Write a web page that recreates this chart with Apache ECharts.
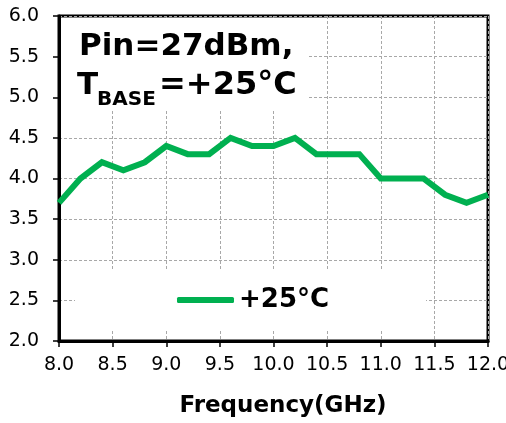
<!DOCTYPE html>
<html><head><meta charset="utf-8">
<script src="https://cdn.jsdelivr.net/npm/echarts@6/dist/echarts.min.js"></script>
<style>html,body{margin:0;padding:0;background:#fff}#c{width:506px;height:423px}</style>
</head><body><div id="c"></div>
<script>
var freqs = [8.0, 8.2, 8.4, 8.6, 8.8, 9.0, 9.2, 9.4, 9.6, 9.8, 10.0, 10.2, 10.4, 10.6, 10.8, 11.0, 11.2, 11.4, 11.6, 11.8, 12.0];
var vals25 = [3.7, 4.0, 4.2, 4.1, 4.2, 4.4, 4.3, 4.3, 4.5, 4.4, 4.4, 4.5, 4.3, 4.3, 4.3, 4.0, 4.0, 4.0, 3.8, 3.7, 3.8];
var xTicks = ['8.0','8.5','9.0','9.5','10.0','10.5','11.0','11.5','12.0'];
var yTicks = ['2.0','2.5','3.0','3.5','4.0','4.5','5.0','5.5','6.0'];
var seriesName = '+25°C';
var xName = 'Frequency(GHz)';
var note1 = 'Pin=27dBm,';
var note2a = 'T', note2b = 'BASE', note2c = '=+25°C';

var F = 'DejaVu Sans';
function txt(x, y, s, size, extra) {
  var st = {text: s, fontFamily: F, fontWeight: 'bold', fontSize: size, fill: '#000', verticalAlign: 'middle'};
  if (extra) for (var k in extra) st[k] = extra[k];
  return {type: 'text', z: 5, x: x, y: y, style: st};
}
var chart = echarts.init(document.getElementById('c'));
chart.setOption({
  animation: false,
  grid: {left: 59, right: 18, top: 16, bottom: 82, outerBoundsMode: 'none', containLabel: false,
    show: true, borderColor: '#000', borderWidth: 3, backgroundColor: 'transparent'},
  xAxis: {
    type: 'value', min: 8, max: 12, interval: 0.5,
    axisLine: {show: true, lineStyle: {color: '#000', width: 3}},
    axisTick: {show: true, length: 6, lineStyle: {color: '#000', width: 1.5}},
    axisLabel: {margin: 15, color: '#000', fontFamily: F, fontSize: 19,
      formatter: function (v) { var i = Math.round((v - 8) / 0.5); return xTicks[i] || ''; }},
    splitLine: {show: true, lineStyle: {color: '#a8a8a8', width: 1, type: [3, 2]}}
  },
  yAxis: {
    type: 'value', min: 2, max: 6, interval: 0.5,
    axisLine: {show: true, lineStyle: {color: '#000', width: 3}},
    axisTick: {show: true, length: 6, lineStyle: {color: '#000', width: 1.5}},
    axisLabel: {margin: 20, color: '#000', fontFamily: F, fontSize: 19,
      formatter: function (v) { var i = Math.round((v - 2) / 0.5); return yTicks[i] || ''; }},
    splitLine: {show: true, lineStyle: {color: '#a8a8a8', width: 1, type: [3, 2]}}
  },
  legend: {
    left: 75, top: 271, padding: [16, 97, 16, 102], backgroundColor: '#fff',
    icon: 'roundRect', itemWidth: 57, itemHeight: 6, itemGap: 5,
    textStyle: {fontFamily: F, fontWeight: 'bold', fontSize: 26, color: '#000'},
    data: [seriesName]
  },
  series: [{
    name: seriesName, type: 'line', showSymbol: false, symbol: 'none',
    data: freqs.map(function (f, i) { return [f, vals25[i]]; }),
    lineStyle: {color: '#00B050', width: 6, join: 'miter'},
    itemStyle: {color: '#00B050'}
  }],
  graphic: [
    {type: 'rect', z: 1, shape: {x: 61, y: 18, width: 246, height: 93}, style: {fill: '#fff'}},
    txt(79, 47, note1, 31),
    txt(77, 86, note2a, 31),
    txt(97, 100, note2b, 20),
    txt(159, 86, note2c, 32),
    txt(283, 406, xName, 23, {align: 'center'})
  ]
});
</script></body></html>
